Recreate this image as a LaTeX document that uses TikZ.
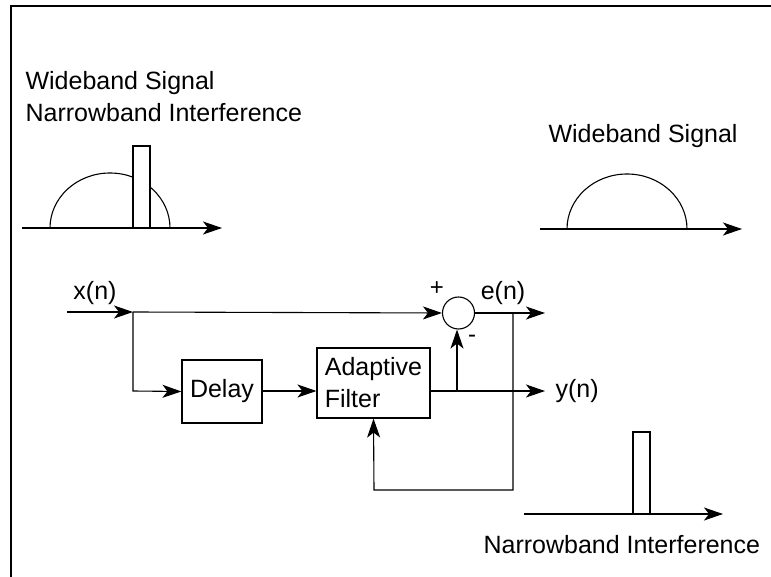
\documentclass[tikz,border=0pt]{standalone}
\usepackage{fontspec}
\setmainfont{Liberation Sans}
\usetikzlibrary{arrows.meta}
\begin{document}
\begin{tikzpicture}[x=1pt,y=-1pt,
  line width=1.1pt,
  arr/.style={-{Stealth[length=19pt,width=13pt,inset=5pt]}},
  lbl/.style={font=\fontsize{25}{30}\selectfont, inner sep=0pt},
  sgn/.style={font=\fontsize{24}{28}\selectfont, inner sep=0pt},
  blk/.style={draw, inner sep=0pt, font=\fontsize{25}{32}\selectfont}]
\useasboundingbox (0,0) rectangle (771,577);
% frame
\draw[line width=1.5pt] (11,577) -- (11,6) -- (771,6);
% top-left spectrum
\node[lbl, anchor=base west] (t1) at (25,90) {Wideband Signal};
\node[lbl, anchor=base west] (t2) at (25,122) {Narrowband Interference};
\draw (50,228) arc[start angle=180, end angle=360, x radius=60, y radius=55];
\draw[fill=white] (133,146) rectangle (150,228);
\coordinate (a1s) at (22,228);
\coordinate (a1e) at (222,228);
\draw[arr] (a1s) -- (a1e);
% top-right spectrum
\node[lbl, anchor=base west] (t3) at (548,143) {Wideband Signal};
\draw (567,229) arc[start angle=180, end angle=360, x radius=60, y radius=55];
\coordinate (a2s) at (540,229);
\coordinate (a2e) at (742,229);
\draw[arr] (a2s) -- (a2e);
\draw[line width=2.2pt] (567,229) -- (687,229);
% bottom-right spectrum
\draw (633,432) rectangle (650,514);
\coordinate (a3s) at (524,514);
\coordinate (a3e) at (723,514);
\draw[arr] (a3s) -- (a3e);
\draw[line width=2pt] (633,514) -- (650,514);
\node[lbl, anchor=base west] (t4) at (483,553) {Narrowband Interference};
% block diagram
\node[blk, minimum width=80pt, minimum height=63pt] (delay) at (222,391.5) {Delay};
\node[blk, minimum width=113pt, minimum height=70pt, align=left] (af) at (373.5,383) {Adaptive\\Filter};
\node[draw, circle, minimum size=32pt, inner sep=0pt] (sum) at (458.5,313) {};
\coordinate (xin) at (67,312);
\coordinate (j1) at (133,312);
\coordinate (j2) at (133,391);
\coordinate (afo) at (430,391);
\coordinate (j3) at (457,391);
\coordinate (yout) at (545,391);
\coordinate (eout) at (545,313);
\coordinate (f1) at (513,313);
\coordinate (f2) at (513,490);
\coordinate (f3) at (374,490);
\draw[arr] (xin) -- (j1);
\draw[arr] (j1) -- (sum.west);
\draw[arr] (j1) -- (j2) -- (delay.west);
\draw[arr] (delay.east |- j2) -- (af.west |- j2);
\draw[arr] (afo) -- (yout);
\draw[arr] (j3) -- (j3 |- sum.south);
\draw[arr] (sum.east) -- (eout);
\draw[arr] (f1) -- (f2) -- (f3) -- (af.south);
\node[lbl] (xn) at (95,293) {x(n)};
\node[lbl] (en) at (503,293) {e(n)};
\node[lbl, anchor=west] (yn) at (555,391) {y(n)};
\node[sgn] (plus) at (437,289) {+};
\node[sgn] (minus) at (472,339) {-};
\end{tikzpicture}
\end{document}
